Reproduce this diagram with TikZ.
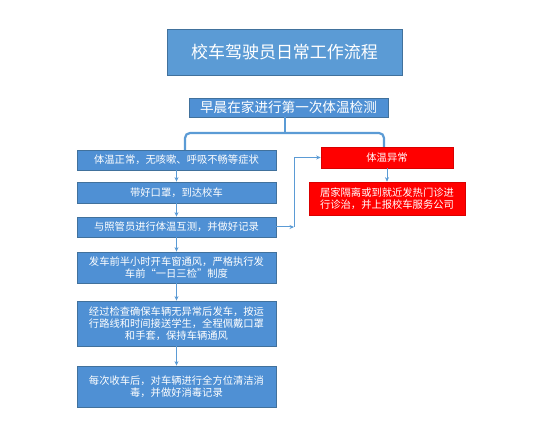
\documentclass[tikz,border=0pt]{standalone}
\usepackage{fontspec}
\setmainfont{Noto Sans CJK SC}
\usetikzlibrary{arrows.meta}
\definecolor{titleblue}{HTML}{5B9BD5}
\definecolor{boxblue}{HTML}{4F90D4}
\definecolor{edgeblue}{HTML}{41719C}
\definecolor{linkblue}{HTML}{5B9BD5}
\definecolor{alertred}{HTML}{FF0000}
\tikzset{
  x=1pt, y=-1pt,
  bbox/.style={draw=edgeblue, line width=0.8pt, fill=boxblue, text=white, inner sep=0pt, align=center, font=\fontsize{10.3}{12.3}\selectfont},
  titlebox/.style={bbox, fill=titleblue, font=\fontsize{17}{20}\selectfont},
  redbox/.style={draw=alertred!85!black, line width=0.6pt, fill=alertred, text=white, inner sep=0pt, align=center, font=\fontsize{10.3}{12.3}\selectfont},
  link/.style={draw=linkblue, line width=1pt, -{Stealth[length=4.5pt,width=4pt]}},
  bracelink/.style={draw=linkblue, line width=2.2pt, rounded corners=5pt},
}
\begin{document}
\begin{tikzpicture}
\path[use as bounding box, fill=white] (0,0) rectangle (542,433);

\node[titlebox, minimum width=235pt, minimum height=46pt] (title) at (284.5,52) {校车驾驶员日常工作流程};
\node[bbox, font=\fontsize{13.6}{16}\selectfont, minimum width=199pt, minimum height=19pt] (b0) at (288.5,107.5) {早晨在家进行第一次体温检测};

\node[bbox, minimum width=199pt, minimum height=20pt] (b1) at (176.5,160) {体温正常，无咳嗽、呼吸不畅等症状};
\node[bbox, minimum width=199pt, minimum height=21pt] (b2) at (176.5,192.5) {带好口罩，到达校车};
\node[bbox, minimum width=199pt, minimum height=20pt] (b3) at (176.5,227) {与照管员进行体温互测，并做好记录};
\node[bbox, minimum width=199pt, minimum height=31pt] (b4) at (176.5,267.5) {发车前半小时开车窗通风，严格执行发\\车前“一日三检”制度};
\node[bbox, minimum width=199pt, minimum height=45pt] (b5) at (176.5,323.5) {经过检查确保车辆无异常后发车，按运\\行路线和时间接送学生，全程佩戴口罩\\和手套，保持车辆通风};
\node[bbox, minimum width=199pt, minimum height=41pt] (b6) at (176.5,386.5) {每次收车后，对车辆进行全方位清洁消\\毒，并做好消毒记录};

\node[redbox, minimum width=132pt, minimum height=21pt] (r1) at (387,157.5) {体温异常};
\node[redbox, minimum width=156pt, minimum height=33pt] (r2) at (387,198.5) {居家隔离或到就近发热门诊进\\行诊治，并上报校车服务公司};

% bracket
\coordinate (bl) at (185,150);
\coordinate (br) at (384,147);
\coordinate (bm) at (285,133);
\draw[bracelink] (bl) |- (bm) -| (br);
\draw[bracelink] (b0.south -| bm) -- (bm);

% vertical flow
\draw[link] (b1) -- (b2);
\draw[link] (b2) -- (b3);
\draw[link] (b3) -- (b4);
\draw[link] (b4) -- (b5);
\draw[link] (b5) -- (b6);
\draw[link] (r1) -- (r2);

% side connector
\coordinate (c1) at (294,227);
\draw[link] (b3.east) -- (c1);
\draw[link] (c1) |- (r1.west);
\end{tikzpicture}
\end{document}
